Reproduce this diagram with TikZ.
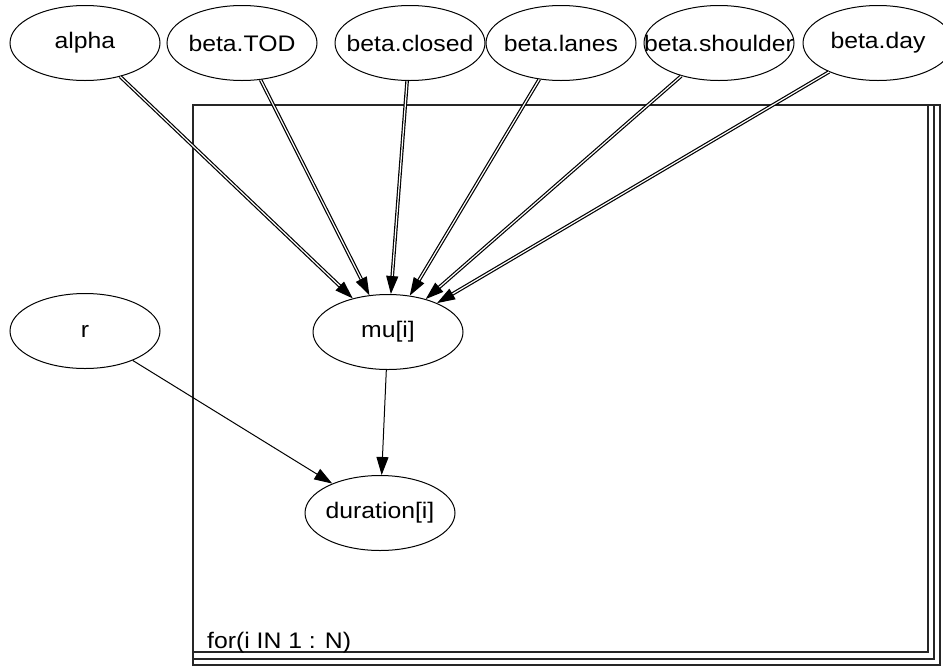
\documentclass[tikz,border=0pt]{standalone}
\usepackage{fontspec}
\setmainfont{Liberation Sans}[FakeStretch=1.1]
\usetikzlibrary{shapes.geometric,arrows.meta}
\newcommand{\vlabel}[1]{\makebox[0pt]{#1}}
\begin{document}
\begin{tikzpicture}[x=1pt,y=-1pt,
  every node/.style={font=\fontsize{22.5}{25}\selectfont},
  var/.style={ellipse, draw, line width=1pt, minimum width=150pt,
    minimum height=75pt, inner sep=0pt},
  tip/.style={-{Triangle[length=18pt,width=12pt]}},
  stoch/.style={tip, line width=1pt},
  logic/.style={tip, line width=1.2pt, double=white, double distance=1.2pt},
  platebox/.style={line width=1.7pt, draw=black!85}]
\useasboundingbox (0,0) rectangle (943,670);
\fill[white] (0,0) rectangle (943,670);

% plate with its stacked edges
\draw[platebox] (193,666) -- (193,105) -- (941,105);
\draw[platebox] (193,652) -- (928,652) -- (928,105);
\draw[platebox] (193,659) -- (934,659) -- (934,105);
\draw[platebox] (193,665) -- (940,665) -- (940,105);
\node[anchor=base west, inner sep=0pt] (loop) at (207,648) {for(i IN 1 : N)};

% variables
\node[var] (alpha)    at (85,43)  {\vlabel{alpha}};
\node[var] (tod)      at (242,43) {\vlabel{beta.TOD}};
\node[var] (closed)   at (410,43) {\vlabel{beta.closed}};
\node[var] (lanes)    at (561,43) {\vlabel{beta.lanes}};
\node[var] (shoulder) at (719,43) {\vlabel{beta.shoulder}};
\node[var] (day)      at (878,43) {\vlabel{beta.day}};
\node[var] (r)        at (85,331) {\vlabel{r}};
\node[var] (mu)       at (388,332) {\vlabel{mu[i]}};
\node[var] (dur)      at (380,513) {\vlabel{duration[i]}};

% logical links
\foreach \src in {alpha,tod,closed,lanes,shoulder,day}
  \draw[logic] (\src) -- (mu);

% stochastic links
\draw[stoch] (mu) -- (dur);
\draw[stoch] (r) -- (dur);
\end{tikzpicture}
\end{document}
